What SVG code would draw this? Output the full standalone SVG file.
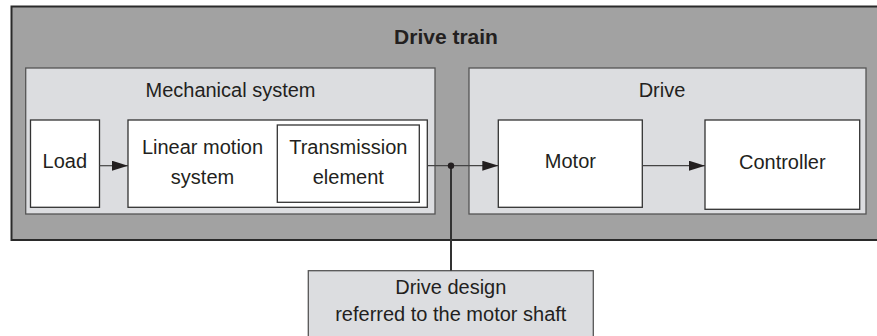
<svg xmlns="http://www.w3.org/2000/svg" width="877" height="336" viewBox="0 0 877 336">
<defs>
<style>
text{font-family:"Liberation Sans",Arial,sans-serif;font-size:20px;fill:#231f20;text-anchor:middle}
.title{font-weight:bold;font-size:21px}
.outer{fill:#a2a2a2;stroke:#2a2a2a;stroke-width:2}
.group{fill:#dcdde0;stroke:#555;stroke-width:1.3}
.box{fill:#fff;stroke:#333;stroke-width:1.3}
.conn{stroke:#444;stroke-width:1.2;fill:none}
.stem{stroke:#333;stroke-width:2;fill:none}
</style>
<marker id="ah" viewBox="0 0 16 10" refX="16" refY="5" markerWidth="16" markerHeight="10" markerUnits="userSpaceOnUse" orient="auto">
<path d="M0,0 L16,5 L0,10 Z" fill="#231f20"/>
</marker>
</defs>
<g id="drive-train">
<rect class="outer" x="11.5" y="6.5" width="875" height="233.5"/>
<text class="title" x="446" y="44">Drive train</text>
</g>
<g id="mechanical-system">
<rect class="group" x="25.7" y="68" width="409.3" height="146"/>
<text x="230.5" y="97">Mechanical system</text>
</g>
<g id="drive">
<rect class="group" x="469" y="68" width="397" height="146"/>
<text x="662" y="97">Drive</text>
</g>
<g id="load">
<rect class="box" x="30.5" y="120" width="69" height="87.3"/>
<text x="64.8" y="168.3">Load</text>
</g>
<g id="linear-motion-system">
<rect class="box" x="128" y="120" width="299.3" height="87.3" stroke-width="1.6"/>
<text x="202.5" y="154">Linear motion</text>
<text x="202.5" y="184.3">system</text>
</g>
<g id="transmission-element">
<rect class="box" x="277.3" y="125" width="142" height="77.3"/>
<text x="348.3" y="154">Transmission</text>
<text x="348.3" y="184.3">element</text>
</g>
<g id="motor">
<rect class="box" x="498.3" y="120" width="144" height="87.3"/>
<text x="570.4" y="167.7">Motor</text>
</g>
<g id="controller">
<rect class="box" x="705" y="120" width="154.7" height="89.3"/>
<text x="782.3" y="169.3">Controller</text>
</g>
<g id="drive-design">
<rect class="group" x="308.3" y="270.7" width="285" height="80" fill="#dcdddf"/>
<text x="450.8" y="294">Drive design</text>
<text x="450.8" y="320.7">referred to the motor shaft</text>
</g>
<g id="connectors">
<line class="conn" x1="99.5" y1="165.7" x2="128" y2="165.7" marker-end="url(#ah)"/>
<line class="conn" x1="427.3" y1="165.7" x2="498.3" y2="165.7" marker-end="url(#ah)"/>
<line class="conn" x1="642.3" y1="165.7" x2="705" y2="165.7" marker-end="url(#ah)"/>
<line class="stem" x1="451" y1="165.7" x2="451" y2="270.7"/>
<circle cx="451" cy="165.7" r="3.2" fill="#231f20"/>
</g>
</svg>
